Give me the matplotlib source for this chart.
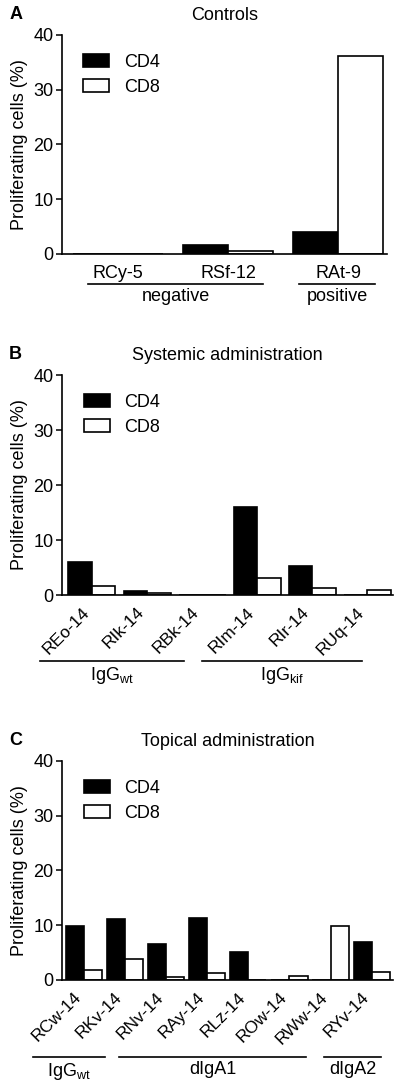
import matplotlib

matplotlib.use("Agg")
import matplotlib.pyplot as plt
import matplotlib.transforms as mtransforms
import numpy as np

plt.rcParams["font.family"] = ["Liberation Sans", "DejaVu Sans"]
plt.rcParams["mathtext.fontset"] = "custom"
plt.rcParams["mathtext.rm"] = "Liberation Sans"
plt.rcParams["mathtext.default"] = "regular"

# --- data ---
ctrl_names = ["RCy-5", "RSf-12", "RAt-9"]
ctrl_cd4 = [0.0, 1.6, 4.1]
ctrl_cd8 = [0.0, 0.5, 36.2]

sys_names = ["REo-14", "RIk-14", "RBk-14", "RIm-14", "RIr-14", "RUq-14"]
sys_cd4 = [6.0, 0.7, 0.0, 16.0, 5.2, 0.0]
sys_cd8 = [1.7, 0.3, 0.0, 3.1, 1.3, 0.9]

top_names = ["RCw-14", "RKv-14", "RNv-14", "RAy-14", "RLz-14", "ROw-14", "RWw-14", "RYv-14"]
top_cd4 = [9.9, 11.1, 6.6, 11.4, 5.2, 0.0, 0.0, 7.0]
top_cd8 = [1.8, 3.9, 0.5, 1.2, 0.0, 0.7, 9.8, 1.4]

ctrl_groups = ["negative", "positive"]
sys_groups = [r"IgG$_{wt}$", r"IgG$_{kif}$"]
top_groups = [r"IgG$_{wt}$", "dIgA1", "dIgA2"]

FS = 13

fig = plt.figure(figsize=(4, 10.89), dpi=100)

panels = [
    # rect, letter, title, names, cd4, cd8, bar width, xlim, rotate, groups, spans, group y
    ([0.155, 0.7668, 0.8125, 0.2011], "A", "Controls", ctrl_names, ctrl_cd4, ctrl_cd8,
     0.41, (-0.51, 2.445), False, ctrl_groups, [(-0.27, 1.32), (1.645, 2.336)], -0.137),
    ([0.155, 0.4536, 0.8275, 0.2020], "B", "Systemic administration", sys_names, sys_cd4, sys_cd8,
     0.427, (-0.545, 5.47), True, sys_groups, [(-0.945, 1.67), (2.0, 4.91)], -0.30),
    ([0.155, 0.1001, 0.8275, 0.2011], "C", "Topical administration", top_names, top_cd4, top_cd8,
     0.44, (-0.535, 7.52), True, top_groups, [(-1.24, 0.51), (0.85, 5.4), (5.84, 7.23)], -0.352),
]

for rect, letter, title, names, cd4, cd8, w, xlim, rot, groups, spans, gy in panels:
    ax = fig.add_axes(rect)
    x = np.arange(len(names))
    ax.bar(x - w / 2, cd4, w, color="black", edgecolor="black", lw=1.2, label="CD4")
    ax.bar(x + w / 2, cd8, w, color="white", edgecolor="black", lw=1.2, label="CD8")

    ax.set_xlim(*xlim)
    ax.set_ylim(0, 40)
    ax.set_yticks([0, 10, 20, 30, 40])
    ax.spines[["top", "right"]].set_visible(False)
    ax.spines["left"].set_linewidth(1.2)
    ax.spines["bottom"].set_linewidth(1.2)
    ax.tick_params(axis="y", labelsize=FS, length=4, width=1.1, pad=2)
    ax.set_xticks(x)
    if rot:
        ax.set_xticklabels(names, rotation=45, ha="right", fontsize=FS - 0.5)
        ax.tick_params(axis="x", length=0, pad=7)
    else:
        ax.set_xticklabels(names, fontsize=FS)
        ax.tick_params(axis="x", length=0, pad=8)

    ax.set_ylabel("Proliferating cells (%)", fontsize=FS, labelpad=4)
    ax.set_title(title, fontsize=FS, pad=11)
    ax.text(-0.14, 1.095, letter, transform=ax.transAxes, fontsize=FS,
            fontweight="bold", ha="center", va="center")

    leg = ax.legend(loc="upper left", bbox_to_anchor=(0.065, 0.915), frameon=False,
                    fontsize=FS, handlelength=1.45, handleheight=0.75,
                    handletextpad=0.8, labelspacing=0.45, borderpad=0, borderaxespad=0)

    trans = mtransforms.blended_transform_factory(ax.transData, ax.transAxes)
    for label, (x0, x1) in zip(groups, spans):
        ax.plot([x0, x1], [gy, gy], transform=trans, clip_on=False, color="black", lw=1.2)
        ax.annotate(label, xy=((x0 + x1) / 2, gy), xycoords=trans, xytext=(0, -3),
                    textcoords="offset points", ha="center", va="top", fontsize=FS)

fig.savefig("out.png", dpi=100)
